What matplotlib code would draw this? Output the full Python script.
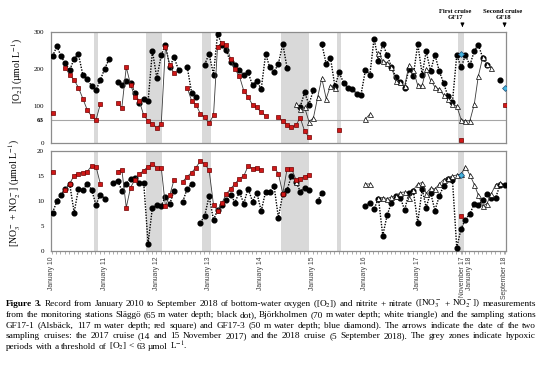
import numpy as np
import pandas as pd
import matplotlib
matplotlib.use('Agg')
import matplotlib.pyplot as plt
import matplotlib.dates as mdates

plt.rcParams['font.family'] = ['Liberation Serif', 'DejaVu Serif']
plt.rcParams['mathtext.fontset'] = 'stix'

n = np.nan
# one sample per month, Jan 2010 .. Sep 2018 (105 months)
dates = pd.date_range('2010-01-01', periods=105, freq='MS') + pd.Timedelta(days=4)

# bottom-water [O2] (umol/L)
o2_slaggo = [235, 262, 234, 215, 197, 228, 240, 184, 173, 154, 142, 170,
             201, 227, n, 165, 156, 167, 163, 135, 108, 119, 113, 249,
             176, 237, 266, 206, 232, 197, n, 205, 135, 125, n, 212,
             241, 185, 294, 266, 250, 218, 210, 198, 183, 191, 156, 167,
             146, 241, 205, 192, 214, 268, 203, n, n, 98, 137, 104,
             143, n, 268, 214, 230, 153, 191, 162, 149, 147, 132, 131,
             198, 185, 282, 222, 268, 237, 205, 178, 165, 149, 201, 182,
             268, 185, 248, 194, 239, 194, 162, 126, 111, 237, 205, 237,
             210, 249, 266, 230, 212, n, n, 171, n]
o2_gf171 = [80, n, n, 204, 184, 170, 150, 120, 89, 72, 62, 105,
            n, n, n, 109, 95, 205, 158, 124, 113, 75, 60, 52,
            41, 52, 259, 210, 188, n, n, 149, 114, 104, 79, 69,
            54, 75, 260, 271, 265, 226, 199, 181, 141, 125, 103, 96,
            83, 74, n, n, 70, 59, 50, 43, 48, 68, 32, 16,
            n, n, n, n, n, n, 35, n, n, n, n, n,
            n, n, n, n, n, n, n, n, n, n, n, n,
            n, n, n, n, n, n, n, n, n, n, 9, n,
            n, n, n, n, n, n, n, n, 103]
o2_bjork = [n] * 48 + [
            n, n, n, n, n, n, n, n, 105, 91, 96, 58,
            67, 125, 175, 120, 155, 150, n, n, n, n, n, n,
            65, 78, n, 243, 222, 217, 205, 168, 164, 153, 211, 196,
            156, 156, 200, 169, 152, 145, 130, 118, 106, 100, 63, 60,
            60, 105, 180, 232, 214, 203, n, n, n]
o2_gf173 = [n] * 94 + [241] + [n] * 9 + [148]

# bottom-water [NO3- + NO2-] (umol/L)
nox_slaggo = [7.7, 10.0, 11.3, 12.5, 13.4, 7.7, 12.4, 12.2, 13.4, 12.3, 9.2, 11.3,
              10.5, n, 13.7, 14.1, 12.1, 13.5, 14.5, 14.6, 13.7, 13.7, 1.5, 8.7,
              9.3, 9.0, 10.9, 9.4, 12.1, n, 9.9, 12.5, 13.4, n, 5.7, 7.0,
              11.0, 6.2, 8.2, 9.2, 10.2, 11.3, 9.7, 11.8, 9.5, 12.5, 9.9, 11.7,
              8.0, 11.9, 11.9, 13.0, 6.7, 11.4, 12.2, 15.1, 13.9, 11.9, 12.7, 12.2,
              n, 10.0, 11.7, n, n, n, n, n, n, n, n, n,
              9.1, 9.7, 8.4, 10.5, 3.1, 7.2, 9.7, 11.0, 10.7, 8.2, 11.7, 12.0,
              5.7, 12.4, 8.7, 11.7, 8.1, 11.0, 13.0, 14.5, 14.3, 0.7, 4.5, 6.3,
              7.4, 9.5, 9.2, 10.2, 11.4, 10.7, 10.7, 13.3, 13.2]
nox_gf171 = [15.9, n, n, 12.3, 13.5, 15.1, 15.5, 15.7, 15.9, 17.0, 16.9, 13.5,
             n, n, n, 15.9, 16.3, 8.7, 12.7, 14.3, 15.4, 16.1, 16.9, 17.4,
             16.7, 16.7, 9.0, 11.2, 14.3, n, 13.9, 14.9, 15.7, 16.7, 18.0, 17.4,
             16.2, 9.2, 8.1, 9.6, 11.4, 12.5, 13.4, 14.5, 15.0, 17.0, 16.5, 16.7,
             16.2, n, n, 16.7, 15.5, 11.5, 16.4, 16.5, 14.3, 14.5, 14.9, 15.2] + \
            [n] * 34 + [7.0] + [n] * 10
nox_bjork = [n] * 56 + [13.8] + [n] * 15 + [
             13.4, 13.4, n, 10.6, 10.7, 10.5, 10.8, 11.0, 11.7, 11.8, 10.7, 12.2,
             13.4, 13.7, 11.5, 12.6, 12.4, 13.4, 14.3, 14.7, 15.0, 15.2, 15.4, 16.9,
             15.2, 13.3, 11.2, 9.0, 9.5, 11.5, 13.3, 13.7, n]
nox_gf173 = [n] * 94 + [15.2] + [n] * 10

# hypoxic periods (grey zones)
hypoxic = [('2010-10-20', '2010-11-18'), ('2011-10-20', '2012-02-10'),
           ('2012-11-15', '2013-01-18'), ('2014-05-22', '2014-12-06'),
           ('2015-06-20', '2015-07-20'), ('2017-10-17', '2017-11-22')]

cruise_dates = ['2017-11-14', '2018-09-05']
cruise_labels = ['First cruise\nGF17', 'Second cruise\nGF18']

tick_dates = ['2010-01-01', '2011-01-01', '2012-01-01', '2013-01-01', '2014-01-01',
              '2015-01-01', '2016-01-01', '2017-01-01', '2017-11-14',
              '2018-01-01', '2018-09-05']
tick_labels = ['January 10', 'January 11', 'January 12', 'January 13', 'January 14',
               'January 15', 'January 16', 'January 17', 'November 17',
               'January 18', 'September 18']

W, H = 541, 369
fig = plt.figure(figsize=(W / 100, H / 100), dpi=100)
ax1 = fig.add_axes([51 / W, 1 - 143 / H, 455 / W, 111 / H])
ax2 = fig.add_axes([51 / W, 1 - 251 / H, 455 / W, 100 / H])

xmin, xmax = pd.Timestamp('2009-12-25'), pd.Timestamp('2018-09-15')
spine_col = '#8c8c8c'
red_kw = dict(ls='-', lw=0.6, color='#3a3a3a', marker='s', ms=3.1,
              mfc='#d01818', mec='#700000', mew=0.5, zorder=5)
blk_kw = dict(ls=(0, (1, 1)), lw=1.0, color='black', marker='o', ms=3.4,
              mfc='black', mec='black', zorder=3)
tri_kw = dict(ls='-', lw=0.6, color='#3a3a3a', marker='^', ms=3.6,
              mfc='white', mec='black', mew=0.5, zorder=4)
blu_kw = dict(ls='none', marker='D', ms=3.0, mfc='#45b3dc', mec='#1f4e79',
              mew=0.5, zorder=6)

for ax in (ax1, ax2):
    for s, e in hypoxic:
        ax.axvspan(pd.Timestamp(s), pd.Timestamp(e), color='#d9d9d9', lw=0, zorder=0)
    ax.set_xlim(xmin, xmax)
    for sp in ax.spines.values():
        sp.set_color(spine_col)
        sp.set_linewidth(0.9)

ax1.plot(dates, o2_slaggo, **blk_kw)
ax1.plot(dates, o2_bjork, **tri_kw)
ax1.plot(dates, o2_gf171, **red_kw)
ax1.plot(dates, o2_gf173, **blu_kw)
ax1.axhline(63, color='#a6a6a6', lw=0.8, zorder=1)
ax1.set_ylim(0, 300)
ax1.set_yticks([0, 63, 100, 200, 300])
ax1.set_yticklabels(['0', '63', '100', '200', '300'])
ax1.get_yticklabels()[1].set_fontweight('bold')
ax1.tick_params(axis='y', length=0, labelsize=5, pad=5)
ax1.tick_params(axis='x', which='both', length=0, labelbottom=False)

ax2.plot(dates, nox_slaggo, **blk_kw)
ax2.plot(dates, nox_bjork, **tri_kw)
ax2.plot(dates, nox_gf171, **red_kw)
ax2.plot(dates, nox_gf173, **blu_kw)
ax2.set_ylim(0, 20)
ax2.set_yticks([0, 5, 10, 15, 20])
ax2.tick_params(axis='y', length=0, labelsize=5, pad=5)
ax2.set_xticks([pd.Timestamp(d) for d in tick_dates])
ax2.set_xticklabels(tick_labels, rotation=90, fontsize=4.9,
                    family='Liberation Sans', color='#404040')
ax2.xaxis.set_minor_locator(mdates.MonthLocator())
ax2.tick_params(axis='x', which='both', direction='out', length=2,
                width=0.5, color=spine_col, pad=2)

fig.text(17 / W, 1 - 71 / H, r'[O$_2$] (µmol L$^{-1}$)', rotation=90,
         ha='center', va='center', fontsize=7)
fig.text(15 / W, 1 - 193 / H, r'[NO$_3^-$ + NO$_2^-$] (µmol L$^{-1}$)', rotation=90,
         ha='center', va='center', fontsize=7)

# cruise arrows and their labels
label_x = [455, 503]
for d, lab, lx in zip(cruise_dates, cruise_labels, label_x):
    d = pd.Timestamp(d)
    ax1.annotate('', xy=(d, 306), xytext=(d, 325), annotation_clip=False,
                 arrowprops=dict(arrowstyle='-|>', color='black', lw=0.8,
                                 mutation_scale=5))
    fig.text(lx / W, 1 - 20 / H, lab, ha='center', va='bottom', fontsize=4.8,
             fontweight='bold', linespacing=1.15)

# caption, justified by spreading the words over each line
caption = [
    r'Figure 3. Record from January 2010 to September 2018 of bottom-water oxygen ([O$_2$]) and nitrite + nitrate ([NO$_3^-$ + NO$_2^-$]) measurements',
    'from the monitoring stations Släggö (65 m water depth; black dot), Björkholmen (70 m water depth; white triangle) and the sampling stations',
    'GF17-1 (Alsbäck, 117 m water depth; red square) and GF17-3 (50 m water depth; blue diamond). The arrows indicate the date of the two',
    'sampling cruises: the 2017 cruise (14 and 15 November 2017) and the 2018 cruise (5 September 2018). The grey zones indicate hypoxic',
    r'periods with a threshold of [O$_2$] < 63 µmol L$^{-1}$.',
]
cap_base = [306, 316.8, 327.6, 338.4, 349.2]
x0, x1 = 6, 536
r = fig.canvas.get_renderer()
fs0 = 6.0
rows = []
for i, line in enumerate(caption):
    words = line.split(' ')
    ts = [fig.text(0, 1 - cap_base[i] / H, w, fontsize=fs0, va='baseline', ha='left',
                   fontweight='bold' if (i == 0 and j < 2) else 'normal')
          for j, w in enumerate(words)]
    rows.append(ts)

# pick the font size so the longest line just fits with normal spaces
space0 = 0.25 * fs0 * 100 / 72
k = min((x1 - x0) / (sum(t.get_window_extent(r).width for t in ts) + (len(ts) - 1) * space0)
        for ts in rows[:-1])
fs = fs0 * k
for i, ts in enumerate(rows):
    for t in ts:
        t.set_fontsize(fs)
    widths = [t.get_window_extent(r).width for t in ts]
    if i < len(rows) - 1:
        gap = (x1 - x0 - sum(widths)) / (len(ts) - 1)
    else:
        gap = 0.25 * fs * 100 / 72
    x = x0
    for t, w in zip(ts, widths):
        t.set_x(x / W)
        x += w + gap

fig.savefig('out.png', dpi=100)
